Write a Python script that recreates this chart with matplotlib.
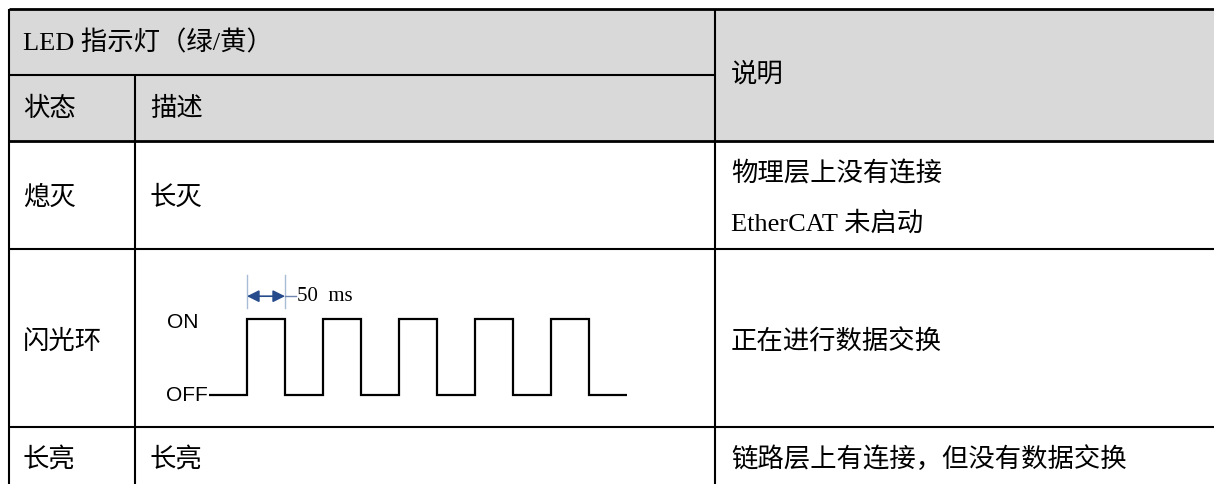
import matplotlib.pyplot as plt

# table text
header_top = "LED 指示灯（绿/黄）"
header_sub = ["状态", "描述"]
header_note = "说明"
states = ["熄灭", "闪光环", "长亮"]
descs = ["长灭", "", "长亮"]
notes = [["物理层上没有连接", "EtherCAT 未启动"], ["正在进行数据交换"], ["链路层上有连接，但没有数据交换"]]

# flash waveform (ms, ON=1 / OFF=0)
wave_edges = [-50, 0, 50, 100, 150, 200, 250, 300, 350, 400, 450, 500]
wave_level = [0, 1, 0, 1, 0, 1, 0, 1, 0, 1, 0]
period_label = "50  ms"

W, H = 1214, 484
fig = plt.figure(figsize=(W / 100, H / 100), dpi=100)
ax = fig.add_axes([0, 0, 1, 1])
ax.set_xlim(0, W)
ax.set_ylim(H, 0)
ax.axis('off')

cjk = ['Noto Sans CJK SC', 'DejaVu Sans']
mixed = ['Liberation Serif', 'Noto Sans CJK SC']
fs = 19
wt = 'light'
lw = 1.5
k = 'black'

# layout in pixels
x_left, x_c1, x_c2 = 9, 135, 715
y_top, y_mid, y_head, rows = 9, 75, 141, [141, 249, 427, 484]

ax.fill_between([x_left, W], y_top, y_head, color='#d9d9d9', zorder=0)
ax.hlines(y_top, x_left, W, color=k, lw=2)
ax.hlines(y_mid, x_left, x_c2, color=k, lw=lw)
ax.hlines(y_head, x_left, W, color=k, lw=2)
for y in rows[1:-1]:
    ax.hlines(y, x_left, W, color=k, lw=lw)
ax.vlines(x_left, y_top, H, color=k, lw=lw)
ax.vlines(x_c1, y_mid, H, color=k, lw=lw)
ax.vlines(x_c2, y_top, H, color=k, lw=lw)

tx0, tx1, tx2 = 23, 150, 731
ax.text(tx0, 43, header_top, family=mixed, fontsize=fs, va='center', weight=wt)
ax.text(tx0, 109, header_sub[0], family=cjk, fontsize=fs, va='center', weight=wt)
ax.text(tx1, 109, header_sub[1], family=cjk, fontsize=fs, va='center', weight=wt)
ax.text(tx2, 74, header_note, family=cjk, fontsize=fs, va='center', weight=wt)

row_y = [197, 341, 459]
for i in range(3):
    ax.text(tx0, row_y[i], states[i], family=cjk, fontsize=fs, va='center', weight=wt)
    if descs[i]:
        ax.text(tx1, row_y[i], descs[i], family=cjk, fontsize=fs, va='center', weight=wt)
    if len(notes[i]) == 1:
        ax.text(tx2, row_y[i], notes[i][0], family=mixed, fontsize=fs, va='center', weight=wt)
    else:
        ax.text(tx2, 174, notes[i][0], family=mixed, fontsize=fs, va='center', weight=wt)
        ax.text(tx2, 223, notes[i][1], family=mixed, fontsize=fs, va='center', weight=wt)

# waveform axes: t=-50 -> 209px, t=500 -> 627px, level 0 -> 395px, level 1 -> 319px
wx0, wx1, wy0, wy1 = 209, 627, 395, 319
wax = fig.add_axes([wx0 / W, (H - wy0) / H, (wx1 - wx0) / W, (wy0 - wy1) / H])
wax.set_xlim(wave_edges[0], wave_edges[-1])
wax.set_ylim(0, 1)
wax.axis('off')
wax.stairs(wave_level, wave_edges, color=k, lw=1.6, baseline=None, clip_on=False)

wax.text(-85, 0.96, "ON", family='Liberation Sans', fontsize=15, ha='center', va='center')
wax.text(wave_edges[0] - 1, -0.01, "OFF", family='Liberation Sans', fontsize=15,
         ha='right', va='center')

guide = '#a9bcd6'
arrow_c = '#264b8c'
for t in [0, 50]:
    wax.plot([t, t], [1.145, 1.58], color=guide, lw=1, clip_on=False)
wax.annotate('', xy=(0, 1.3), xytext=(50, 1.3),
             arrowprops=dict(arrowstyle='<|-|>', color=arrow_c, lw=1.2,
                             mutation_scale=18, shrinkA=0, shrinkB=0),
             annotation_clip=False)
wax.plot([50, 65], [1.3, 1.3], color='#6f87b0', lw=1, clip_on=False)
wax.text(66, 1.3, period_label, family='Liberation Serif', fontsize=15, va='center')

fig.savefig('out.png', dpi=100)
